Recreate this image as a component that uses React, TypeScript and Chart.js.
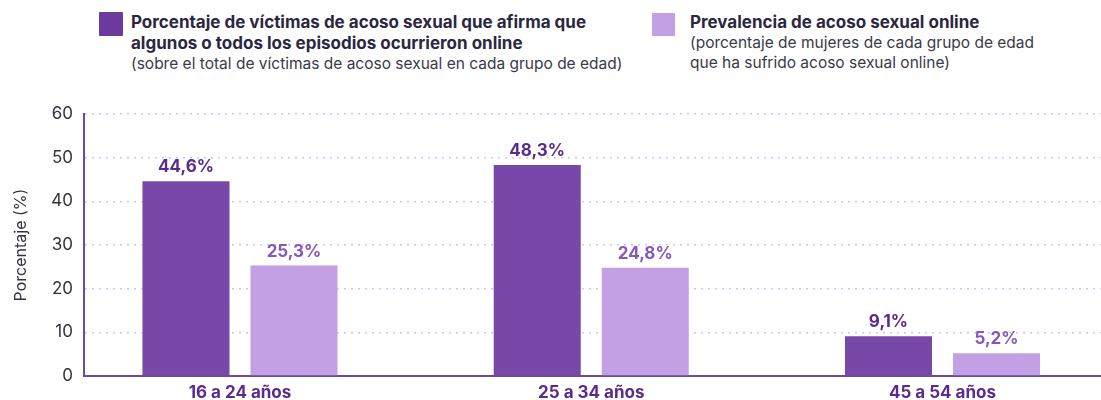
import React, { useEffect, useRef } from "react";
import { Chart, registerables } from "chart.js";

Chart.register(...registerables);

const categories = ["16 a 24 años", "25 a 34 años", "45 a 54 años"];
const victimsOnline = [44.6, 48.3, 9.1];
const prevalenceOnline = [25.3, 24.8, 5.2];
const yTicks = [0, 10, 20, 30, 40, 50, 60];
const seriesNames = [
  "Porcentaje de víctimas de acoso sexual que afirma que algunos o todos los episodios ocurrieron online",
  "Prevalencia de acoso sexual online",
];

const DARK = "#7848a8";
const LIGHT = "#c3a0e3";
const DARK_LABEL = "#5a2a8e";
const LIGHT_LABEL = "#8656bd";
const FONT = "Inter, 'Noto Sans', sans-serif";

const fmt = (v: number) => v.toFixed(1).replace(".", ",") + "%";

const valueLabels = {
  id: "valueLabels",
  afterDatasetsDraw(chart: any) {
    const ctx = chart.ctx;
    ctx.save();
    ctx.font = `bold 17px ${FONT}`;
    ctx.textAlign = "center";
    ctx.textBaseline = "alphabetic";
    chart.data.datasets.forEach((ds: any, di: number) => {
      const meta = chart.getDatasetMeta(di);
      ctx.fillStyle = di === 0 ? DARK_LABEL : LIGHT_LABEL;
      meta.data.forEach((el: any, i: number) => {
        ctx.fillText(fmt(ds.data[i].y), el.x, el.y - 9);
      });
    });
    ctx.restore();
  },
};

export default function App() {
  const ref = useRef<HTMLCanvasElement | null>(null);

  useEffect(() => {
    if (!ref.current) return;
    Chart.defaults.font.family = FONT;
    const chart = new Chart(ref.current, {
      type: "bar",
      data: {
        datasets: [
          {
            label: seriesNames[0],
            data: victimsOnline.map((v, i) => ({ x: i, y: v })),
            backgroundColor: DARK,
            categoryPercentage: 0.615,
            barPercentage: 0.806,
          },
          {
            label: seriesNames[1],
            data: prevalenceOnline.map((v, i) => ({ x: i, y: v })),
            backgroundColor: LIGHT,
            categoryPercentage: 0.615,
            barPercentage: 0.806,
          },
        ],
      },
      options: {
        responsive: false,
        animation: false,
        devicePixelRatio: 1,
        layout: { padding: { top: 114, left: 0, right: 0, bottom: 0 } },
        plugins: { legend: { display: false }, tooltip: { enabled: false } },
        scales: {
          x: {
            type: "linear",
            offset: false,
            min: -0.4441,
            max: 2.4513,
            afterBuildTicks: (s: any) => {
              s.ticks = categories.map((_, i) => ({ value: i }));
            },
            afterFit: (s: any) => {
              s.height = 44;
            },
            grid: { display: false, drawTicks: false },
            border: { display: true, color: "#6a4a9c", width: 2 },
            ticks: {
              padding: 7,
              autoSkip: false,
              maxRotation: 0,
              color: DARK_LABEL,
              font: { size: 17, weight: "bold", family: FONT },
              callback: (v: any) => categories[Math.round(Number(v))] ?? "",
            },
          },
          y: {
            min: 0,
            max: 60,
            afterBuildTicks: (s: any) => {
              s.ticks = yTicks.map((v) => ({ value: v }));
            },
            afterFit: (s: any) => {
              s.width = 84;
            },
            grid: {
              drawTicks: false,
              color: "#cdc6f0",
              lineWidth: 1.5,
            },
            border: { display: true, color: "#6a4a9c", width: 2, dash: [2, 5] },
            ticks: {
              padding: 11,
              color: "#333340",
              font: { size: 17, family: FONT },
            },
            title: {
              display: true,
              text: "Porcentaje (%)",
              color: "#333340",
              font: { size: 16, family: FONT },
              padding: { top: 12, bottom: 0 },
            },
          },
        },
      },
      plugins: [valueLabels],
    } as any);
    return () => chart.destroy();
  }, []);

  const boldStyle: React.CSSProperties = {
    fontWeight: 700,
    fontSize: 17,
    lineHeight: "21px",
    color: "#2b2742",
  };
  const regStyle: React.CSSProperties = {
    fontWeight: 400,
    fontSize: 15.5,
    lineHeight: "20px",
    color: "#3a3a48",
  };

  return (
    <div
      style={{
        position: "fixed",
        left: 0,
        top: 0,
        width: 1101,
        height: 400,
        overflow: "hidden",
        background: "#fff",
        fontFamily: FONT,
      }}
    >
      <div style={{ position: "absolute", left: 99, top: 12, width: 24, height: 24, background: "#6c3a9f", borderRadius: 1 }} />
      <div style={{ position: "absolute", left: 131, top: 12, width: 520, whiteSpace: "nowrap" }}>
        <div style={boldStyle}>Porcentaje de víctimas de acoso sexual que afirma que</div>
        <div style={boldStyle}>algunos o todos los episodios ocurrieron online</div>
        <div style={regStyle}>(sobre el total de víctimas de acoso sexual en cada grupo de edad)</div>
      </div>
      <div style={{ position: "absolute", left: 652, top: 13, width: 23, height: 23, background: LIGHT, borderRadius: 1 }} />
      <div style={{ position: "absolute", left: 690, top: 12, width: 400, whiteSpace: "nowrap" }}>
        <div style={boldStyle}>Prevalencia de acoso sexual online</div>
        <div style={regStyle}>(porcentaje de mujeres de cada grupo de edad</div>
        <div style={regStyle}>que ha sufrido acoso sexual online)</div>
      </div>
      <canvas
        ref={ref}
        width={1101}
        height={420}
        style={{ position: "absolute", left: 0, top: 0, width: 1101, height: 420 }}
      />
    </div>
  );
}
